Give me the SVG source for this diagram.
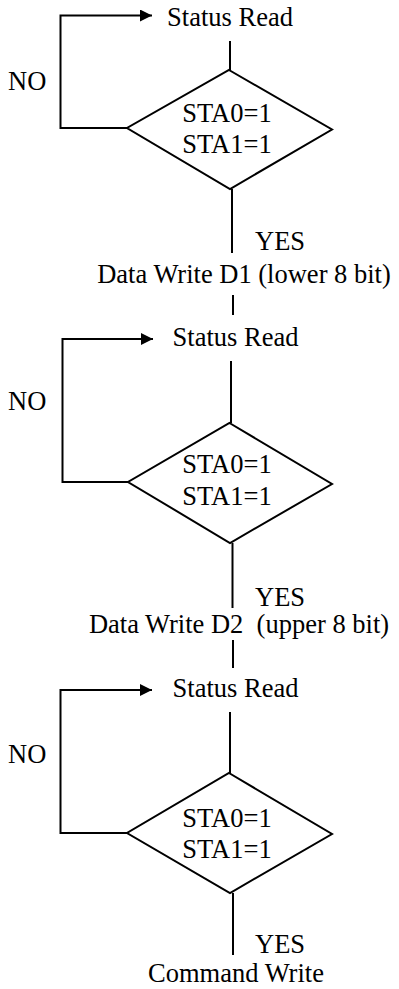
<svg xmlns="http://www.w3.org/2000/svg" width="399" height="989" viewBox="0 0 399 989">
<style>
text { font-family: "Liberation Serif", "Times New Roman", serif; font-size: 26.5px; fill: #000; }
.c { text-anchor: middle; }
.shape { fill: none; stroke: #000; stroke-width: 2; }
.conn { fill: none; stroke: #000; stroke-width: 2; }
</style>
<defs>
<marker id="arr" markerUnits="userSpaceOnUse" markerWidth="12" markerHeight="12" refX="12" refY="6" orient="auto">
<path d="M0,0 L12,6 L0,12 z" fill="#000"/>
</marker>
</defs>
<rect width="399" height="989" fill="#fff"/>

<g id="connectors">
<line class="conn" x1="230" y1="41" x2="230" y2="70"/>
<polyline class="conn" points="127,128 60.5,128 60.5,15.5 152,15.5" marker-end="url(#arr)"/>
<line class="conn" x1="232" y1="189" x2="232" y2="253"/>
<line class="conn" x1="233" y1="295" x2="233" y2="315"/>

<line class="conn" x1="231" y1="361" x2="231" y2="423"/>
<polyline class="conn" points="128,482 62.5,482 62.5,339 153,339" marker-end="url(#arr)"/>
<line class="conn" x1="232.5" y1="543" x2="232.5" y2="608"/>
<line class="conn" x1="233" y1="640" x2="233" y2="668"/>

<line class="conn" x1="230" y1="712" x2="230" y2="773"/>
<polyline class="conn" points="127,833 60.5,833 60.5,690 152,690" marker-end="url(#arr)"/>
<line class="conn" x1="233" y1="893" x2="233" y2="955"/>
</g>

<g id="status1"><text class="c" x="230" y="26">Status Read</text></g>
<g id="decision1">
<polygon class="shape" points="229,70 332,129.5 230,189 127,128"/>
<text class="c" x="227" y="122">STA0=1</text>
<text class="c" x="227" y="153">STA1=1</text>
</g>
<g id="no1"><text x="8" y="90">NO</text></g>
<g id="yes1"><text x="255" y="250">YES</text></g>
<g id="write1"><text class="c" x="244" y="283">Data Write D1 (lower 8 bit)</text></g>

<g id="status2"><text class="c" x="235.5" y="346">Status Read</text></g>
<g id="decision2">
<polygon class="shape" points="229.5,423 332,484 230,543 128,482"/>
<text class="c" x="227" y="473">STA0=1</text>
<text class="c" x="227" y="505">STA1=1</text>
</g>
<g id="no2"><text x="8" y="410">NO</text></g>
<g id="yes2"><text x="255" y="606">YES</text></g>
<g id="write2"><text class="c" x="239" y="633" xml:space="preserve">Data Write D2  (upper 8 bit)</text></g>

<g id="status3"><text class="c" x="235.5" y="697">Status Read</text></g>
<g id="decision3">
<polygon class="shape" points="229,773 332,834 230,893 127,833"/>
<text class="c" x="227" y="827">STA0=1</text>
<text class="c" x="227" y="858">STA1=1</text>
</g>
<g id="no3"><text x="8" y="763">NO</text></g>
<g id="yes3"><text x="255" y="953">YES</text></g>
<g id="cmd"><text class="c" x="236" y="982">Command Write</text></g>
</svg>
